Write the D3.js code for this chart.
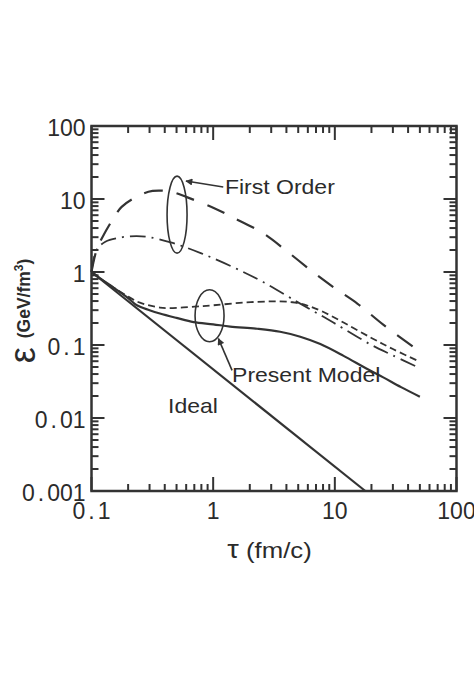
<!DOCTYPE html>
<html>
<head>
<meta charset="utf-8">
<script src="https://cdn.jsdelivr.net/npm/d3@7"></script>
<style>
  body { margin: 0; background: #fff; }
  text { font-family: "Liberation Sans", Arial, sans-serif; fill: #2b2b2b; }
</style>
</head>
<body>
<svg id="chart" width="474" height="678"></svg>
<script>
// ---- data ----
var tauIdeal = [0.1, 17.8];
var epsIdeal = [1, 0.001];

var tauPresent = [0.1, 0.12, 0.15, 0.2, 0.236, 0.3, 0.365, 0.5, 0.69, 1, 1.38, 2.3, 3.55, 5.2, 7.6, 11.8, 18, 25, 35, 50];
var epsPresent = [1, 0.8, 0.62, 0.44, 0.35, 0.3, 0.27, 0.235, 0.206, 0.192, 0.179, 0.167, 0.152, 0.13, 0.103, 0.071, 0.048, 0.036, 0.0265, 0.0196];

var tauPresent2 = [0.1, 0.12, 0.15, 0.2, 0.25, 0.365, 0.43, 0.7, 1, 1.75, 3, 4.5, 6, 8, 12, 20, 30, 50];
var epsPresent2 = [1, 0.8, 0.62, 0.46, 0.38, 0.325, 0.32, 0.335, 0.35, 0.38, 0.395, 0.385, 0.345, 0.285, 0.2, 0.125, 0.088, 0.059];

var tauFirst = [0.1, 0.11, 0.123, 0.15, 0.177, 0.25, 0.318, 0.45, 0.607, 1, 1.45, 2.57, 4, 6.6, 10, 15.3, 25, 50];
var epsFirst = [1, 2, 3, 5.3, 7.8, 11.3, 12.9, 12.6, 10.6, 7.6, 5.6, 3.4, 1.95, 1.0, 0.6, 0.37, 0.19, 0.081];

var tauFirst2 = [0.1, 0.11, 0.13, 0.18, 0.235, 0.3, 0.465, 0.8, 1.45, 2.57, 4.9, 8, 12, 20, 30, 50];
var epsFirst2 = [1, 2, 2.6, 3.0, 3.1, 3.0, 2.5, 1.8, 1.17, 0.73, 0.39, 0.245, 0.165, 0.1, 0.072, 0.048];

var xTicks = [0.1, 1, 10, 100];
var xTickLabels = ["0.1", "1", "10", "100"];
var yTicks = [0.001, 0.01, 0.1, 1, 10, 100];
var yTickLabels = ["0.001", "0.01", "0.1", "1", "10", "100"];

var svg = d3.select("#chart");
var margin = {left: 91.5, top: 126};
var w = 365, h = 365;

var x = d3.scaleLog().domain([0.1, 100]).range([0, w]);
var y = d3.scaleLog().domain([0.001, 100]).range([h, 0]);

var g = svg.append("g").attr("transform", "translate(" + margin.left + "," + margin.top + ")");

// minor ticks
var minorX = [], minorY = [];
[0.1, 1, 10].forEach(function (d) {
    for (var k = 2; k <= 9; k++) minorX.push(d * k);
});
[0.001, 0.01, 0.1, 1, 10].forEach(function (d) {
    for (var k = 2; k <= 9; k++) minorY.push(d * k);
});

var axisColor = "#333";

function ticksX(data, y0, len) {
    g.append("g").selectAll("line").data(data).enter().append("line")
        .attr("x1", d => x(d)).attr("x2", d => x(d))
        .attr("y1", y0).attr("y2", y0 + len)
        .attr("stroke", axisColor).attr("stroke-width", 2);
}
function ticksY(data, x0, len) {
    g.append("g").selectAll("line").data(data).enter().append("line")
        .attr("y1", d => y(d)).attr("y2", d => y(d))
        .attr("x1", x0).attr("x2", x0 + len)
        .attr("stroke", axisColor).attr("stroke-width", 2);
}

// all ticks point inward
ticksX(minorX, h, -7);
ticksX(xTicks, h, -14);
ticksX(minorX, 0, 7);
ticksX(xTicks, 0, 14);
ticksY(minorY, 0, 7);
ticksY(yTicks, 0, 13);
ticksY(minorY, w, -7);
ticksY(yTicks, w, -13);

// frame
g.append("rect")
    .attr("width", w).attr("height", h)
    .attr("fill", "none").attr("stroke", axisColor).attr("stroke-width", 2.5);

// tick labels, the period in this font is wide
function tickText(sel, label) {
    var parts = label.split(".");
    sel.append("tspan").text(parts[0]);
    if (parts.length > 1) {
        sel.append("tspan").attr("dx", 3).text(".");
        sel.append("tspan").attr("dx", 3).text(parts[1]);
    }
}

g.append("g").selectAll("text").data(xTicks).enter().append("text")
    .attr("x", d => x(d)).attr("y", h + 28)
    .attr("text-anchor", "middle")
    .style("font-size", "23px")
    .each(function (d, i) { tickText(d3.select(this), xTickLabels[i]); });

g.append("g").selectAll("text").data(yTicks).enter().append("text")
    .attr("x", -6).attr("y", d => y(d) + 9.5)
    .attr("text-anchor", "end")
    .style("font-size", "23px")
    .each(function (d, i) { tickText(d3.select(this), yTickLabels[i]); });

// curves
var line = d3.line()
    .x(d => x(d[0]))
    .y(d => y(d[1]))
    .curve(d3.curveCatmullRom.alpha(0.5));

function series(taus, eps) {
    return taus.map(function (t, i) { return [t, eps[i]]; });
}

var curves = [
    {pts: series(tauIdeal, epsIdeal), dash: null, sw: 2.2},
    {pts: series(tauPresent, epsPresent), dash: null, sw: 2.2},
    {pts: series(tauPresent2, epsPresent2), dash: "7,4", sw: 1.8},
    {pts: series(tauFirst, epsFirst), dash: "19,14", sw: 2.2},
    {pts: series(tauFirst2, epsFirst2), dash: "16,6,2,6", sw: 1.8}
];

g.append("g").selectAll("path").data(curves).enter().append("path")
    .attr("d", d => line(d.pts))
    .attr("fill", "none")
    .attr("stroke", "#333")
    .attr("stroke-width", d => d.sw)
    .attr("stroke-dasharray", d => d.dash);

// annotations (ellipses + arrows + labels), positioned in data units
var ellipses = [
    {t: 0.505, e: 6.1, rx: 10, ry: 38.5},
    {t: 0.934, e: 0.251, rx: 14.5, ry: 26}
];
g.append("g").selectAll("ellipse").data(ellipses).enter().append("ellipse")
    .attr("cx", d => x(d.t)).attr("cy", d => y(d.e))
    .attr("rx", d => d.rx).attr("ry", d => d.ry)
    .attr("fill", "none").attr("stroke", "#333").attr("stroke-width", 1.6);

svg.append("defs").append("marker")
    .attr("id", "arrow")
    .attr("viewBox", "0 -5 10 10")
    .attr("refX", 9)
    .attr("refY", 0)
    .attr("markerWidth", 9)
    .attr("markerHeight", 7)
    .attr("markerUnits", "userSpaceOnUse")
    .attr("orient", "auto")
    .append("path")
    .attr("d", "M0,-5L10,0L0,5Z")
    .attr("fill", "#333");

var arrows = [
    {t1: 1.21, e1: 14.6, t2: 0.598, e2: 17.6},
    {t1: 1.43, e1: 0.045, t2: 1.105, e2: 0.1225}
];
g.append("g").selectAll("line").data(arrows).enter().append("line")
    .attr("x1", d => x(d.t1)).attr("y1", d => y(d.e1))
    .attr("x2", d => x(d.t2)).attr("y2", d => y(d.e2))
    .attr("stroke", "#333").attr("stroke-width", 1.6)
    .attr("marker-end", "url(#arrow)");

var labels = [
    {t: 1.25, e: 11.7, text: "First Order"},
    {t: 1.43, e: 0.0308, text: "Present Model"},
    {t: 0.426, e: 0.01156, text: "Ideal"}
];
g.append("g").selectAll("text").data(labels).enter().append("text")
    .attr("transform", d => "translate(" + x(d.t) + "," + y(d.e) + ") scale(1.15,1)")
    .style("font-size", "20px")
    .text(d => d.text);

// axis titles
var xt = svg.append("text")
    .attr("transform", "translate(269.5,558) scale(1.17,1)")
    .attr("text-anchor", "middle")
    .style("font-size", "22px");
xt.append("tspan").style("font-size", "25px").text("τ");
xt.append("tspan").text(" (fm/c)");

var yt = svg.append("text")
    .attr("transform", "translate(35,311) rotate(-90)")
    .attr("text-anchor", "middle");
yt.append("tspan").style("font-size", "36px").text("ε");
yt.append("tspan").attr("dx", 9).attr("dy", -5)
    .style("font-size", "17.5px").style("font-weight", "bold").text("(GeV/fm");
yt.append("tspan").attr("dy", -7)
    .style("font-size", "12px").style("font-weight", "bold").text("3");
yt.append("tspan").attr("dy", 7)
    .style("font-size", "17.5px").style("font-weight", "bold").text(")");
</script>
</body>
</html>
